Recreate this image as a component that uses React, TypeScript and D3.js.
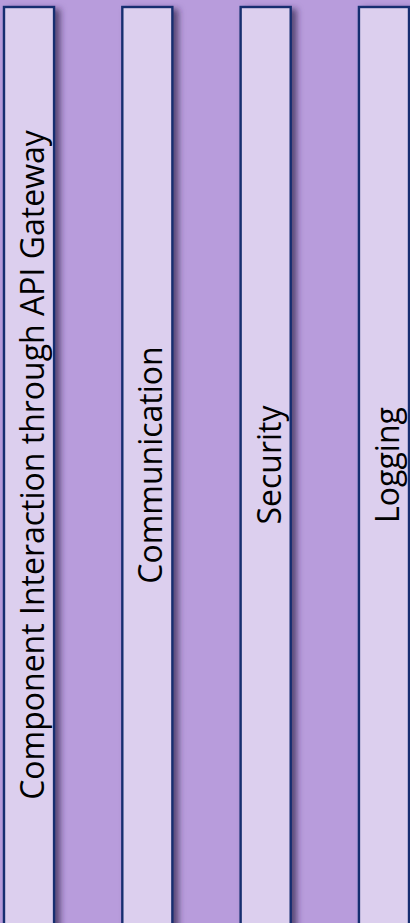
import React, { useEffect, useRef } from 'react';
import * as d3 from 'd3';

// column labels, left to right
const categories: string[] = [
  'Component Interaction through API Gateway',
  'Communication',
  'Security',
  'Logging',
];

const W = 410;
const H = 923;

const App: React.FC = () => {
  const ref = useRef<SVGSVGElement>(null);

  useEffect(() => {
    const svg = d3.select(ref.current);
    svg.selectAll('*').remove();

    const defs = svg.append('defs');
    const filter = defs
      .append('filter')
      .attr('id', 'colShadow')
      .attr('x', '-20%')
      .attr('y', '-5%')
      .attr('width', '160%')
      .attr('height', '120%');
    filter
      .append('feDropShadow')
      .attr('dx', 5)
      .attr('dy', 3)
      .attr('stdDeviation', 3)
      .attr('flood-color', '#2e2048')
      .attr('flood-opacity', 0.7);

    svg.append('rect').attr('width', W).attr('height', H).attr('fill', '#b89cdc');

    const x = d3.scaleBand<string>().domain(categories).range([4, 409]).paddingInner(0.577);

    const top = 7;
    const midY = 465;

    const col = svg
      .selectAll('g.col')
      .data(categories)
      .enter()
      .append('g')
      .attr('class', 'col');

    col
      .append('rect')
      .attr('x', (d) => x(d)!)
      .attr('y', top)
      .attr('width', x.bandwidth())
      .attr('height', H + 20)
      .attr('fill', '#dccfee')
      .attr('stroke', '#172e70')
      .attr('stroke-width', 2.4)
      .attr('filter', 'url(#colShadow)');

    col
      .append('text')
      .attr('transform', (d) => `translate(${x(d)! + 40},${midY}) rotate(-90)`)
      .attr('text-anchor', 'middle')
      .attr('font-family', '"Open Sans", "Noto Sans", sans-serif')
      .attr('font-size', 32)
      .attr('fill', '#000')
      .text((d) => d);
  }, []);

  return (
    <svg
      ref={ref}
      width={W}
      height={H}
      style={{ position: 'absolute', left: 0, top: 0, display: 'block' }}
    />
  );
};

export default App;
